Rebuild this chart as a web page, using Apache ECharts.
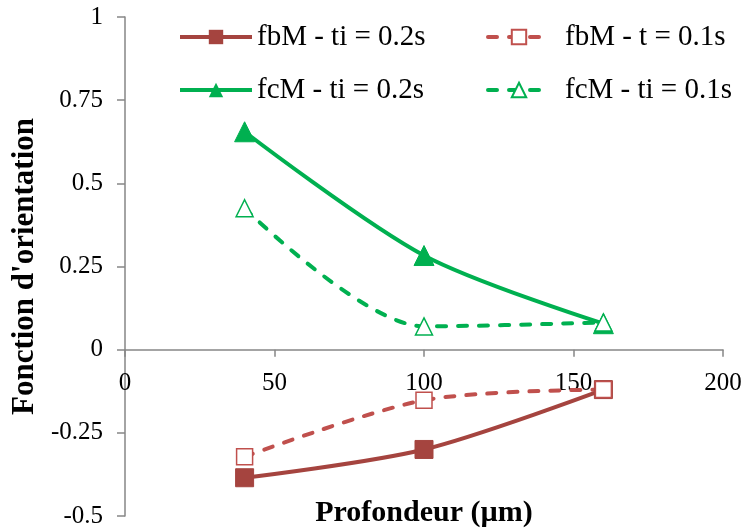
<!DOCTYPE html>
<html>
<head>
<meta charset="utf-8">
<script src="https://cdn.jsdelivr.net/npm/echarts@6/dist/echarts.min.js"></script>
<style>
html,body{margin:0;padding:0;background:#fff;}
#chart{width:746px;height:528px;}
</style>
</head>
<body>
<div id="chart"></div>
<script>
var depth = [40, 100, 160];
var fbM02 = [-0.385, -0.30, -0.12];
var fbM01 = [-0.322, -0.152, -0.12];
var fcM02 = [0.655, 0.283, 0.078];
var fcM01 = [0.425, 0.07, 0.082];
var names = ['fbM - ti = 0.2s', 'fbM - t = 0.1s', 'fcM - ti = 0.2s', 'fcM - ti = 0.1s'];
var yTicks = [-0.5, -0.25, 0, 0.25, 0.5, 0.75, 1];
var xTicks = [0, 50, 100, 150, 200];

var FONT = "'Liberation Serif', 'Times New Roman', serif";
function pairs(ys){ return depth.map(function(x,i){ return [x, ys[i]]; }); }

var darkRed = '#A5443F', red = '#C0504D', green = '#00B050';
var GRID_TOP = 17, GRID_BOTTOM = 12, H = 528;
var plotH = H - GRID_TOP - GRID_BOTTOM;
var zeroOffset = plotH * (0 - yTicks[0]) / (yTicks[yTicks.length-1] - yTicks[0]);

var chart = echarts.init(document.getElementById('chart'), null, {renderer:'canvas'});
chart.setOption({
  animation: false,
  backgroundColor: '#fff',
  grid: {left: 125, right: 23, top: GRID_TOP, bottom: GRID_BOTTOM, containLabel: false, outerBoundsMode: 'none'},
  legend: [
    {
      orient: 'vertical', left: 173, top: 17, itemWidth: 72, itemHeight: 18, itemGap: 23,
      data: [names[0], names[2]],
      lineStyle: {width: 4},
      textStyle: {fontFamily: FONT, fontSize: 29, lineHeight: 30, color: '#000'},
      selectedMode: false
    },
    {
      orient: 'vertical', left: 481, top: 17, itemWidth: 62, itemHeight: 18, itemGap: 23,
      data: [names[1], names[3]],
      lineStyle: {width: 4},
      textStyle: {fontFamily: FONT, fontSize: 29, lineHeight: 30, color: '#000', padding: [0,0,0,10]},
      selectedMode: false
    }
  ],
  xAxis: [
    {
      type: 'value', min: xTicks[0], max: xTicks[xTicks.length-1], interval: 50,
      axisLine: {show: true, onZero: true, lineStyle: {color: '#868686', width: 1.5}},
      axisTick: {show: true, length: 7, lineStyle: {color: '#868686', width: 1.5}},
      axisLabel: {show: false},
      splitLine: {show: false}
    },
    {
      type: 'value', min: xTicks[0], max: xTicks[xTicks.length-1], interval: 50,
      position: 'bottom', offset: -zeroOffset,
      name: 'Profondeur (µm)', nameLocation: 'middle', nameGap: 149,
      nameTextStyle: {fontFamily: FONT, fontSize: 30, fontWeight: 'bold', color: '#000'},
      axisLine: {show: false, onZero: false},
      axisTick: {show: false},
      axisLabel: {show: true, fontFamily: FONT, fontSize: 25, color: '#000', margin: 21},
      splitLine: {show: false}
    }
  ],
  yAxis: {
    type: 'value', min: yTicks[0], max: yTicks[yTicks.length-1], interval: 0.25,
    name: "Fonction d'orientation", nameLocation: 'middle', nameGap: 75, nameRotate: 90,
    nameTextStyle: {fontFamily: FONT, fontSize: 31, fontWeight: 'bold', color: '#000'},
    axisLine: {show: true, onZero: false, lineStyle: {color: '#868686', width: 1.5}},
    axisTick: {show: true, length: 8, lineStyle: {color: '#868686', width: 1.5}},
    axisLabel: {fontFamily: FONT, fontSize: 25, color: '#000', margin: 22},
    splitLine: {show: false}
  },
  series: [
    {
      name: names[0], type: 'line', data: pairs(fbM02), smooth: 0.3,
      symbol: 'rect', symbolSize: 18,
      lineStyle: {color: darkRed, width: 4},
      itemStyle: {color: darkRed, borderColor: darkRed}
    },
    {
      name: names[1], type: 'line', data: pairs(fbM01), smooth: 0.3,
      symbol: 'rect', symbolSize: 16,
      lineStyle: {color: red, width: 4, type: [9, 12], cap: 'round'},
      itemStyle: {color: '#fff', borderColor: red, borderWidth: 1.5}
    },
    {
      name: names[2], type: 'line', data: pairs(fcM02), smooth: 0.3,
      symbol: 'triangle', symbolSize: 20,
      lineStyle: {color: green, width: 4},
      itemStyle: {color: green, borderColor: green}
    },
    {
      name: names[3], type: 'line', data: pairs(fcM01), smooth: 0.3,
      symbol: 'triangle', symbolSize: 17,
      lineStyle: {color: green, width: 4, type: [9, 12], cap: 'round'},
      itemStyle: {color: '#fff', borderColor: green, borderWidth: 1.5}
    }
  ]
});
</script>
</body>
</html>
